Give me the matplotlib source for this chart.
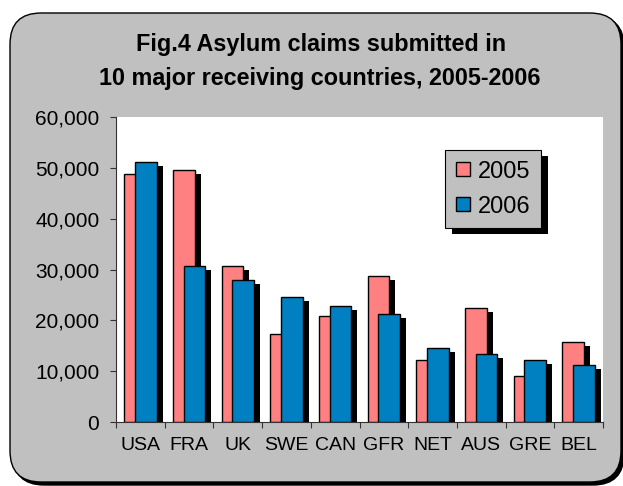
import numpy as np
import matplotlib
matplotlib.use('Agg')
import matplotlib.pyplot as plt
import matplotlib.patheffects as pe
from matplotlib.patches import FancyBboxPatch
from matplotlib.ticker import FuncFormatter, FixedLocator

plt.rcParams['font.family'] = ['Liberation Sans', 'DejaVu Sans']

countries = ['USA', 'FRA', 'UK', 'SWE', 'CAN', 'GFR', 'NET', 'AUS', 'GRE', 'BEL']
claims_2005 = [48800, 49600, 30700, 17300, 20900, 28800, 12200, 22500, 9000, 15700]
claims_2006 = [51200, 30700, 27900, 24500, 22800, 21300, 14500, 13400, 12200, 11300]
years = ['2005', '2006']
colors = ['#FF8080', '#0080C0']

W, H = 623, 486
fig = plt.figure(figsize=(W / 100, H / 100), dpi=100)
fig.patch.set_facecolor('white')

def px(x, y):
    return x / W, 1 - y / H

# rounded grey frame with shadow
x0, y0 = px(10, 482)
x1, y1 = px(621, 13)
box_shadow = FancyBboxPatch((x0 + 3 / W, y0 - 3 / H), x1 - x0, y1 - y0,
                            boxstyle='round,pad=0,rounding_size=0.05',
                            transform=fig.transFigure, facecolor='black',
                            edgecolor='black', zorder=-3, mutation_aspect=W / H)
box = FancyBboxPatch((x0, y0), x1 - x0, y1 - y0,
                     boxstyle='round,pad=0,rounding_size=0.05',
                     transform=fig.transFigure, facecolor='#C0C0C0',
                     edgecolor='black', linewidth=1, zorder=-2, mutation_aspect=W / H)
fig.patches.extend([box_shadow, box])

fig.text(321 / W, 1 - 51.5 / H, 'Fig.4 Asylum claims submitted in',
         ha='center', va='baseline', fontsize=16.8, fontweight='bold')
fig.text(320 / W, 1 - 84.5 / H, '10 major receiving countries, 2005-2006',
         ha='center', va='baseline', fontsize=16.8, fontweight='bold')

ax = fig.add_axes([116 / W, 1 - 422 / H, (603 - 116) / W, (422 - 117) / H])
ax.set_facecolor('white')

x = np.arange(len(countries)) + 0.5
width = 0.445
shadow = [pe.SimplePatchShadow(offset=(4.3, -2.9), shadow_rgbFace='black', alpha=1.0), pe.Normal()]
for i, (vals, c, lab) in enumerate(zip([claims_2005, claims_2006], colors, years)):
    off = -0.11 if i == 0 else 0.11
    bars = ax.bar(x + off, vals, width, color=c, edgecolor='black', linewidth=1.0,
                  label=lab, zorder=2 + i)
    for b in bars:
        b.set_path_effects(shadow)

ax.set_xlim(0, 10)
ax.set_ylim(0, 60000)
ax.set_yticks(np.arange(0, 60001, 10000))
ax.yaxis.set_major_formatter(FuncFormatter(lambda v, p: f'{int(v):,}'))
ax.xaxis.set_major_locator(FixedLocator(np.arange(0, 11)))
ax.xaxis.set_minor_locator(FixedLocator(x))
ax.set_xticklabels([], minor=False)
ax.set_xticklabels(countries, minor=True)
ax.tick_params(axis='x', which='major', length=4, direction='out', color='#333333')
ax.tick_params(axis='x', which='minor', length=0, pad=11, labelsize=14)
ax.tick_params(axis='y', length=4, direction='out', pad=8, labelsize=15, color='#333333')
for s in ['top', 'right']:
    ax.spines[s].set_visible(False)
for s in ['left', 'bottom']:
    ax.spines[s].set_color('#333333')
    ax.spines[s].set_linewidth(0.8)

leg = ax.legend(loc='upper left', bbox_to_anchor=((445 - 116) / 487, (422 - 150) / 305),
                borderaxespad=0, fontsize=17, fancybox=False, framealpha=1,
                facecolor='#C0C0C0', edgecolor='black', handlelength=0.6,
                handleheight=0.55, handletextpad=0.35, labelspacing=0.55,
                borderpad=0.45)
leg.get_frame().set_linewidth(0.8)
leg.legendPatch.set_path_effects([pe.SimplePatchShadow(offset=(5, -4.3), shadow_rgbFace='black', alpha=1.0), pe.Normal()])
for h in leg.legend_handles:
    h.set_path_effects([])

fig.savefig('out.png', dpi=100)
